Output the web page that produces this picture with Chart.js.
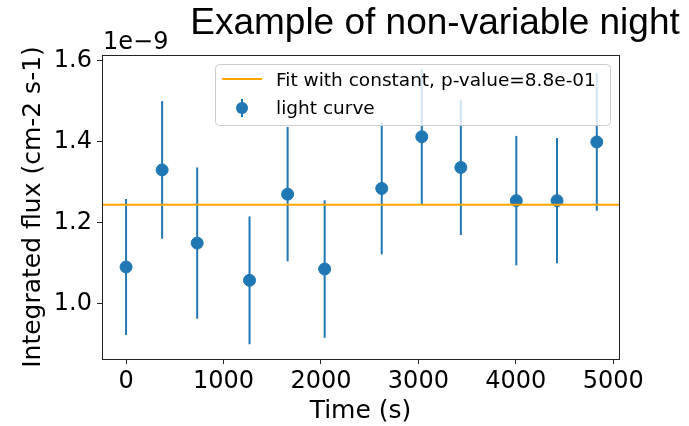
<!DOCTYPE html>
<html>
<head>
<meta charset="utf-8">
<script src="https://cdn.jsdelivr.net/npm/chart.js@4.4.1/dist/chart.umd.min.js"></script>
<style>
  html, body { margin: 0; padding: 0; background: #fff; }
  #wrap { width: 689px; height: 426px; }
</style>
</head>
<body>
<div id="wrap"><canvas id="lcChart" width="689" height="426"></canvas></div>
<script>
// Light curve data (flux in units of 1e-9 cm-2 s-1)
const timeSec = [0, 370, 730, 1267, 1658, 2038, 2624, 3035, 3436, 4005, 4423, 4831];
const flux    = [1.090, 1.330, 1.149, 1.057, 1.270, 1.085, 1.284, 1.412, 1.336, 1.254, 1.254, 1.399];
const fluxErr = [0.168, 0.170, 0.187, 0.158, 0.166, 0.170, 0.163, 0.167, 0.167, 0.160, 0.155, 0.170];
const fitValue = 1.244;
const xTicks = [0, 1000, 2000, 3000, 4000, 5000];
const yTicks = [1.0, 1.2, 1.4, 1.6];
const xRange = [-247, 5059];
const yRange = [0.8625, 1.614];

const BLUE = '#1f77b4';
const ORANGE = '#ffa500';
const DEJAVU = "'DejaVu Sans', sans-serif";

// error bars, drawn under the markers
const errorBars = {
    id: 'errorBars',
    beforeDatasetsDraw(chart) {
        const { ctx, scales: { x, y } } = chart;
        ctx.save();
        ctx.strokeStyle = BLUE;
        ctx.lineWidth = 2;
        timeSec.forEach((t, i) => {
            const px = x.getPixelForValue(t);
            ctx.beginPath();
            ctx.moveTo(px, y.getPixelForValue(flux[i] - fluxErr[i]));
            ctx.lineTo(px, y.getPixelForValue(flux[i] + fluxErr[i]));
            ctx.stroke();
        });
        ctx.restore();
    }
};

// axes frame, offset text, title and legend (matplotlib look)
const decorations = {
    id: 'decorations',
    afterDraw(chart) {
        const { ctx, chartArea: a } = chart;
        ctx.save();
        ctx.strokeStyle = '#222';
        ctx.lineWidth = 1;
        ctx.strokeRect(a.left + 0.5, a.top + 0.5, a.right - a.left, a.bottom - a.top);

        ctx.fillStyle = '#000';
        ctx.font = '24px ' + DEJAVU;
        ctx.textAlign = 'left';
        ctx.textBaseline = 'alphabetic';
        ctx.fillText('1e\u22129', a.left + 1, 49);

        ctx.font = "37px 'Liberation Sans', Arial, sans-serif";
        ctx.textAlign = 'center';
        ctx.fillText('Example of non-variable night', 435, 34);

        // legend box
        const lx = 215.5, ly = 64.5, lw = 395, lh = 61, r = 4;
        ctx.beginPath();
        ctx.roundRect(lx, ly, lw, lh, r);
        ctx.fillStyle = 'rgba(255,255,255,0.8)';
        ctx.fill();
        ctx.strokeStyle = '#cccccc';
        ctx.lineWidth = 1;
        ctx.stroke();

        ctx.strokeStyle = ORANGE;
        ctx.lineWidth = 2;
        ctx.beginPath();
        ctx.moveTo(222, 79);
        ctx.lineTo(262, 79);
        ctx.stroke();

        ctx.strokeStyle = BLUE;
        ctx.beginPath();
        ctx.moveTo(242, 99);
        ctx.lineTo(242, 117);
        ctx.stroke();
        ctx.fillStyle = BLUE;
        ctx.beginPath();
        ctx.arc(242, 108, 6, 0, Math.PI * 2);
        ctx.fill();

        ctx.fillStyle = '#000';
        ctx.font = '18.5px ' + DEJAVU;
        ctx.textAlign = 'left';
        ctx.fillText('Fit with constant, p-value=8.8e-01', 276, 86);
        ctx.fillText('light curve', 276, 114);
        ctx.restore();
    }
};

new Chart(document.getElementById('lcChart').getContext('2d'), {
    type: 'scatter',
    data: {
        datasets: [
            {
                type: 'line',
                label: 'Fit with constant, p-value=8.8e-01',
                data: [{ x: xRange[0], y: fitValue }, { x: xRange[1], y: fitValue }],
                borderColor: ORANGE,
                borderWidth: 2,
                pointRadius: 0,
                fill: false,
                order: 0
            },
            {
                label: 'light curve',
                data: timeSec.map((t, i) => ({ x: t, y: flux[i] })),
                backgroundColor: BLUE,
                borderColor: BLUE,
                pointRadius: 6,
                pointHoverRadius: 6,
                order: 1
            }
        ]
    },
    options: {
        responsive: false,
        animation: false,
        events: [],
        layout: { padding: { top: 55, right: 70, left: 0, bottom: 0 } },
        plugins: { legend: { display: false }, title: { display: false }, tooltip: { enabled: false } },
        scales: {
            x: {
                type: 'linear',
                min: xRange[0],
                max: xRange[1],
                afterBuildTicks: s => { s.ticks = xTicks.map(v => ({ value: v })); },
                afterFit: s => { s.height = 67; },
                grid: { drawOnChartArea: false, drawTicks: true, tickLength: 5, color: '#222' },
                border: { display: false },
                ticks: { color: '#000', padding: 3, maxRotation: 0, callback: v => String(v), font: { family: DEJAVU, size: 24 } },
                title: { display: true, text: 'Time (s)', color: '#000', padding: 0, font: { family: DEJAVU, size: 25 } }
            },
            y: {
                type: 'linear',
                min: yRange[0],
                max: yRange[1],
                afterBuildTicks: s => { s.ticks = yTicks.map(v => ({ value: v })); },
                afterFit: s => { s.width = 102; },
                grid: { drawOnChartArea: false, drawTicks: true, tickLength: 5, color: '#222' },
                border: { display: false },
                ticks: { color: '#000', padding: 5, callback: v => v.toFixed(1), font: { family: DEJAVU, size: 24 } },
                title: { display: true, text: 'Integrated flux (cm-2 s-1)', color: '#000', padding: { top: 18, bottom: 0 }, font: { family: DEJAVU, size: 25 } }
            }
        }
    },
    plugins: [errorBars, decorations]
});
</script>
</body>
</html>
